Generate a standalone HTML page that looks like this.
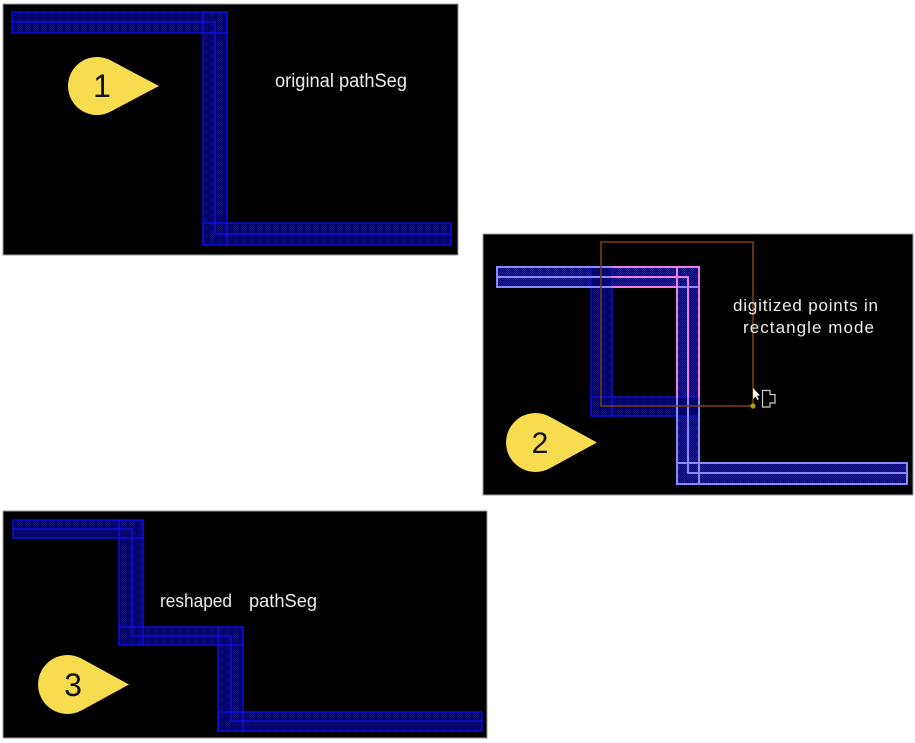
<!DOCTYPE html>
<html><head><meta charset="utf-8"><style>
html,body{margin:0;padding:0;background:#fff;}
svg{display:block;}
text{font-family:"Liberation Sans",Arial,sans-serif;}
</style></head><body>
<svg width="915" height="743" viewBox="0 0 915 743" xmlns="http://www.w3.org/2000/svg">
<defs>
  <pattern id="hd" width="2" height="2" patternUnits="userSpaceOnUse">
    <rect width="2" height="2" fill="#000012"/>
    <rect x="0" y="0" width="1" height="1" fill="#0e0e78"/>
    <rect x="1" y="1" width="1" height="1" fill="#0e0e78"/>
  </pattern>
  <pattern id="hl" width="2" height="2" patternUnits="userSpaceOnUse">
    <rect width="2" height="2" fill="#00001c"/>
    <rect x="0" y="0" width="1" height="1" fill="#26269a"/>
    <rect x="1" y="1" width="1" height="1" fill="#26269a"/>
  </pattern>
</defs>

<!-- Panel 1 -->
<rect x="3" y="4" width="455" height="251" fill="#000" stroke="#9a9a9a" stroke-width="1"/>
<g fill="url(#hd)">
  <rect x="12" y="12" width="215" height="21"/>
  <rect x="203" y="12" width="24" height="233"/>
  <rect x="203" y="223" width="248" height="22"/>
</g>
<g fill="none" stroke="#1010e8" stroke-width="1.3">
  <rect x="12" y="12" width="215" height="21"/>
  <rect x="203" y="12" width="24" height="233"/>
  <rect x="203" y="223" width="248" height="22"/>
  <polyline points="12,22 215,22 215,234 451,234"/>
</g>
<path d="M159 86 L110.6 60.4 A29 29 0 1 0 110.6 111.6 Z" fill="#f8dc50"/>
<text x="102" y="97" font-size="32" text-anchor="middle" fill="#111">1</text>
<text x="275" y="87" font-size="19" fill="#ececec" textLength="132" lengthAdjust="spacingAndGlyphs">original pathSeg</text>

<!-- Panel 2 -->
<rect x="483" y="234" width="430" height="261" fill="#000" stroke="#9a9a9a" stroke-width="1"/>
<g fill="url(#hl)">
  <rect x="497" y="267" width="202" height="20"/>
  <rect x="677" y="267" width="22" height="217"/>
  <rect x="677" y="463" width="230" height="21"/>
</g>
<g fill="url(#hd)">
  <rect x="591" y="267" width="21" height="149"/>
  <rect x="591" y="397" width="108" height="19"/>
</g>
<g fill="none" stroke="#1010e0" stroke-width="1.3">
  <rect x="591" y="267" width="21" height="149"/>
  <rect x="591" y="397" width="108" height="19"/>
</g>
<g fill="none" stroke="#8a8aff" stroke-width="2">
  <rect x="497" y="267" width="202" height="20"/>
  <rect x="677" y="267" width="22" height="217"/>
  <rect x="677" y="463" width="230" height="21"/>
  <polyline points="497,277 688,277 688,473 907,473"/>
</g>
<g fill="none" stroke="#f07ce8" stroke-width="2">
  <polyline points="612,267 699,267 699,397"/>
  <polyline points="612,277 688,277 688,397"/>
  <polyline points="612,287 677,287"/>
  <line x1="677" y1="267" x2="677" y2="397"/>
</g>
<rect x="601" y="242" width="152" height="164" fill="none" stroke="#7a3c10" stroke-width="1.6"/>
<circle cx="753" cy="406" r="2.6" fill="#b89c00"/>
<path d="M753 388 L753 399 L755.5 396.5 L757.5 400 L758.8 399.3 L757 395.8 L760 395.5 Z" fill="#fff"/>
<path d="M762.5 390.5 H770 V394.5 H775 V403 H770 V407 H762.5 Z" fill="none" stroke="#cfcfcf" stroke-width="1.2"/>
<path d="M597 442.5 L549.65 416.6 A29.5 29.5 0 1 0 549.65 468.4 Z" fill="#f8dc50"/>
<text x="540" y="453" font-size="30" text-anchor="middle" fill="#111">2</text>
<text x="733" y="311" font-size="17" fill="#ececec" textLength="145" lengthAdjust="spacing">digitized points in</text>
<text x="743" y="333" font-size="17" fill="#ececec" textLength="131" lengthAdjust="spacing">rectangle mode</text>

<!-- Panel 3 -->
<rect x="3" y="511" width="484" height="227" fill="#000" stroke="#9a9a9a" stroke-width="1"/>
<g fill="url(#hd)">
  <rect x="13" y="520" width="130" height="18"/>
  <rect x="119" y="520" width="24" height="125"/>
  <rect x="119" y="627" width="124" height="18"/>
  <rect x="218" y="627" width="25" height="104"/>
  <rect x="218" y="712" width="264" height="19"/>
</g>
<g fill="none" stroke="#1010e8" stroke-width="1.3">
  <rect x="13" y="520" width="130" height="18"/>
  <rect x="119" y="520" width="24" height="125"/>
  <rect x="119" y="627" width="124" height="18"/>
  <rect x="218" y="627" width="25" height="104"/>
  <rect x="218" y="712" width="264" height="19"/>
  <polyline points="13,529 132,529 132,636 231,636 231,721 482,721"/>
</g>
<path d="M129 684.5 L81.65 658.6 A29.5 29.5 0 1 0 81.65 710.4 Z" fill="#f8dc50"/>
<text x="73" y="696" font-size="32" text-anchor="middle" fill="#111">3</text>
<text x="160" y="607" font-size="18" fill="#ececec" textLength="72" lengthAdjust="spacingAndGlyphs">reshaped</text>
<text x="249" y="607" font-size="18" fill="#ececec" textLength="68" lengthAdjust="spacingAndGlyphs">pathSeg</text>
</svg>
</body></html>
